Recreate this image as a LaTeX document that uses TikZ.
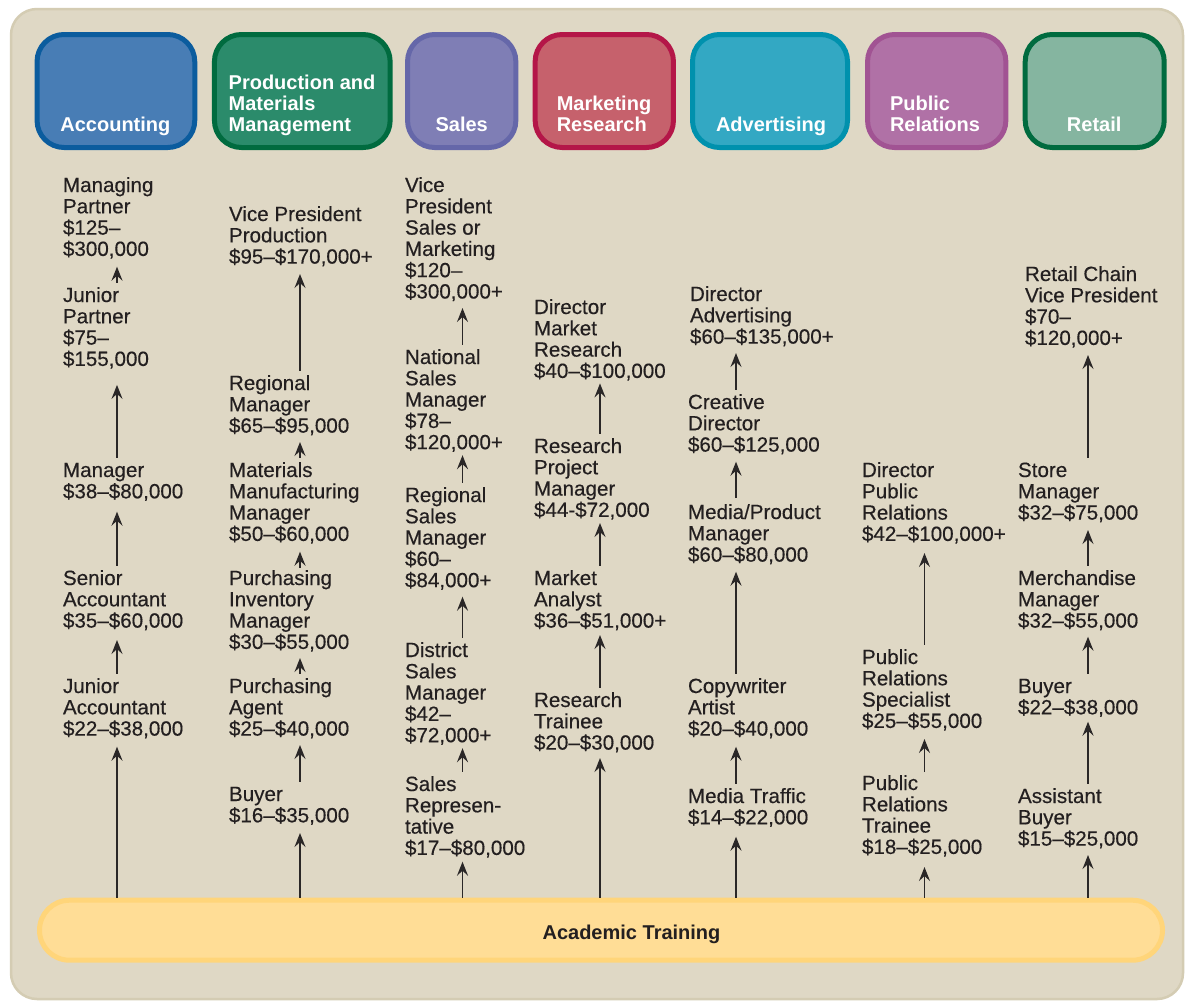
\documentclass[tikz,border=0pt]{standalone}
\usepackage{fontspec}
\setmainfont{Liberation Sans}
\newfontfamily\bodyfont[FakeBold=0.35]{Liberation Sans}
\usetikzlibrary{arrows.meta}
\definecolor{panel}{HTML}{DFD8C5}
\definecolor{panelb}{HTML}{D4CCB3}
\definecolor{ink}{HTML}{231F20}
\definecolor{arrowc}{HTML}{2A2727}
\definecolor{accF}{HTML}{487DB5}\definecolor{accB}{HTML}{0B5C9E}
\definecolor{proF}{HTML}{2B8B6B}\definecolor{proB}{HTML}{006B3F}
\definecolor{salF}{HTML}{7F7EB5}\definecolor{salB}{HTML}{6567A9}
\definecolor{mrF}{HTML}{C6616C}\definecolor{mrB}{HTML}{B41648}
\definecolor{advF}{HTML}{33A8C3}\definecolor{advB}{HTML}{0091AD}
\definecolor{prF}{HTML}{B071A6}\definecolor{prB}{HTML}{A15393}
\definecolor{retF}{HTML}{85B5A0}\definecolor{retB}{HTML}{006B3F}
\definecolor{acadF}{HTML}{FFDD96}\definecolor{acadB}{HTML}{FFD57A}
\newcommand\jt[1]{\rule{0pt}{17pt}#1\rule[-5pt]{0pt}{5pt}}
\begin{document}
\begin{tikzpicture}[x=1pt,y=-1pt,
  job/.style={anchor=north west, inner sep=0pt, outer sep=0pt, align=left,
    font=\bodyfont\fontsize{20.6}{21.3}\selectfont, text=ink},
  head/.style={anchor=north, inner sep=0pt, outer sep=0pt, align=left,
    font=\bfseries\fontsize{20}{21}\selectfont, text=white},
  hbox/.style 2 args={draw=#1, fill=#2, line width=5pt, rounded corners=27pt,
    minimum height=113pt, inner sep=0pt},
  arr/.style={draw=arrowc, line width=1.5pt,
    -{Stealth[length=14pt,width=11pt,inset=5pt]}, shorten <=2.5pt},
]
\useasboundingbox (0,0) rectangle (1185,1002);
\fill[white] (0,0) rectangle (1185,1002);
\filldraw[fill=panel, draw=panelb, line width=2.5pt, rounded corners=26pt]
  (11,9) rectangle (1183,999);

% column coordinates
\coordinate (cA) at (117,0);
\coordinate (cP) at (300,0);
\coordinate (cS) at (462.5,0);
\coordinate (cM) at (600,0);
\coordinate (cD) at (736,0);
\coordinate (cR) at (924.5,0);
\coordinate (cT) at (1088,0);

% header boxes
\node[hbox={accB}{accF}, minimum width=157.7pt] (hA) at (115.9,91) {};
\node[hbox={proB}{proF}, minimum width=175.7pt] (hP) at (302.3,91) {};
\node[hbox={salB}{salF}, minimum width=108.3pt] (hS) at (461.7,91) {};
\node[hbox={mrB}{mrF}, minimum width=138.3pt] (hM) at (604.3,91) {};
\node[hbox={advB}{advF}, minimum width=155pt] (hD) at (770,91) {};
\node[hbox={prB}{prF}, minimum width=138.3pt] (hR) at (936.7,91) {};
\node[hbox={retB}{retF}, minimum width=139pt] (hT) at (1094.7,91) {};

\node[head] (tA) at (115.4,114) {\rule{0pt}{17pt}Accounting};
\node[head] (tP) at (302,72) {\rule{0pt}{17pt}Production and\\Materials\\Management};
\node[head] (tS) at (461.7,114) {\rule{0pt}{17pt}Sales};
\node[head] (tM) at (604,93) {\rule{0pt}{17pt}Marketing\\Research};
\node[head] (tD) at (771,114) {\rule{0pt}{17pt}Advertising};
\node[head] (tR) at (935,93) {\rule{0pt}{17pt}Public\\Relations};
\node[head] (tT) at (1094.2,114) {\rule{0pt}{17pt}Retail};

% Accounting
\node[job] (a1) at (63,175) {\jt{Managing\\Partner\\\$125–\\\$300,000}};
\node[job] (a2) at (63,285) {\jt{Junior\\Partner\\\$75–\\\$155,000}};
\node[job] (a3) at (63,460) {\jt{Manager\\\$38–\$80,000}};
\node[job] (a4) at (63,568) {\jt{Senior\\Accountant\\\$35–\$60,000}};
\node[job] (a5) at (63,676) {\jt{Junior\\Accountant\\\$22–\$38,000}};

% Production
\node[job] (p1) at (229,204) {\jt{Vice President\\Production\\\$95–\$170,000+}};
\node[job] (p2) at (229,373) {\jt{Regional\\Manager\\\$65–\$95,000}};
\node[job] (p3) at (229,460) {\jt{Materials\\Manufacturing\\Manager\\\$50–\$60,000}};
\node[job] (p4) at (229,568) {\jt{Purchasing\\Inventory\\Manager\\\$30–\$55,000}};
\node[job] (p5) at (229,676) {\jt{Purchasing\\Agent\\\$25–\$40,000}};
\node[job] (p6) at (229,784) {\jt{Buyer\\\$16–\$35,000}};

% Sales
\node[job] (s1) at (405,175) {\jt{Vice\\President\\Sales or\\Marketing\\\$120–\\\$300,000+}};
\node[job] (s2) at (405,347) {\jt{National\\Sales\\Manager\\\$78–\\\$120,000+}};
\node[job] (s3) at (405,485) {\jt{Regional\\Sales\\Manager\\\$60–\\\$84,000+}};
\node[job] (s4) at (405,640) {\jt{District\\Sales\\Manager\\\$42–\\\$72,000+}};
\node[job] (s5) at (405,774) {\jt{Sales\\Represen-\\tative\\\$17–\$80,000}};

% Marketing Research
\node[job] (m1) at (534,297) {\jt{Director\\Market\\Research\\\$40–\$100,000}};
\node[job] (m2) at (534,436) {\jt{Research\\Project\\Manager\\\$44-\$72,000}};
\node[job] (m3) at (534,568) {\jt{Market\\Analyst\\\$36–\$51,000+}};
\node[job] (m4) at (534,690) {\jt{Research\\Trainee\\\$20–\$30,000}};

% Advertising
\node[job] (d1) at (690,284) {\jt{Director\\Advertising\\\$60–\$135,000+}};
\node[job] (d2) at (688,392) {\jt{Creative\\Director\\\$60–\$125,000}};
\node[job] (d3) at (688,502) {\jt{Media/Product\\Manager\\\$60–\$80,000}};
\node[job] (d4) at (688,676) {\jt{Copywriter\\Artist\\\$20–\$40,000}};
\node[job] (d5) at (688,786) {\jt{Media Traffic\\\$14–\$22,000}};

% Public Relations
\node[job] (r1) at (862,460) {\jt{Director\\Public\\Relations\\\$42–\$100,000+}};
\node[job] (r2) at (862,647) {\jt{Public\\Relations\\Specialist\\\$25–\$55,000}};
\node[job] (r3) at (862,773) {\jt{Public\\Relations\\Trainee\\\$18–\$25,000}};

% Retail
\node[job] (t1) at (1025,264) {\jt{Retail Chain\\Vice President\\\$70–\\\$120,000+}};
\node[job] (t2) at (1018,460) {\jt{Store\\Manager\\\$32–\$75,000}};
\node[job] (t3) at (1018,568) {\jt{Merchandise\\Manager\\\$32–\$55,000}};
\node[job] (t4) at (1018,676) {\jt{Buyer\\\$22–\$38,000}};
\node[job] (t5) at (1018,786) {\jt{Assistant\\Buyer\\\$15–\$25,000}};

% Academic training bar
\node[draw=acadB, fill=acadF, line width=5pt, rounded corners=30pt,
  minimum width=1123pt, minimum height=60pt, outer sep=2.5pt, inner sep=0pt]
  (acad) at (601,930.2) {};
\node[anchor=base, inner sep=0pt, text=ink, font=\bfseries\fontsize{20}{21}\selectfont]
  (acadT) at (631.5,939) {Academic Training};

% Arrows: Accounting
\draw[arr, shorten >=5.8pt] (a2.north -| cA) -- (a1.south -| cA);
\draw[arr, shorten >=14pt] (a3.north -| cA) -- (a2.south -| cA);
\draw[arr, shorten >=8.4pt] (a4.north -| cA) -- (a3.south -| cA);
\draw[arr, shorten >=7.4pt] (a5.north -| cA) -- (a4.south -| cA);
\draw[arr, shorten <=0pt, shorten >=6.1pt] (acad.north -| cA) -- (a5.south -| cA);
% Production
\draw[arr, shorten >=5.4pt] (p2.north -| cP) -- (p1.south -| cP);
\draw[arr, shorten >=4.4pt] (p3.north -| cP) -- (p2.south -| cP);
\draw[arr, shorten >=5.8pt, shorten <=0.5pt] (p4.north -| cP) -- (p3.south -| cP);
\draw[arr, shorten >=4.1pt] (p5.north -| cP) -- (p4.south -| cP);
\draw[arr, shorten >=4.4pt] (p6.north -| cP) -- (p5.south -| cP);
\draw[arr, shorten <=0pt, shorten >=5.7pt] (acad.north -| cP) -- (p6.south -| cP);
% Sales
\draw[arr, shorten >=4.5pt] (s2.north -| cS) -- (s1.south -| cS);
\draw[arr, shorten >=1pt] (s3.north -| cS) -- (s2.south -| cS);
\draw[arr, shorten >=4.5pt] (s4.north -| cS) -- (s3.south -| cS);
\draw[arr, shorten >=1pt] (s5.north -| cS) -- (s4.south -| cS);
\draw[arr, shorten <=0pt, shorten >=1.8pt] (acad.north -| cS) -- (s5.south -| cS);
% Marketing Research
\draw[arr, shorten >=0.5pt] (m2.north -| cM) -- (m1.south -| cM);
\draw[arr, shorten >=1.1pt] (m3.north -| cM) -- (m2.south -| cM);
\draw[arr, shorten >=2.4pt] (m4.north -| cM) -- (m3.south -| cM);
\draw[arr, shorten <=0pt, shorten >=3.4pt] (acad.north -| cM) -- (m4.south -| cM);
% Advertising
\draw[arr, shorten >=4.4pt] (d2.north -| cD) -- (d1.south -| cD);
\draw[arr, shorten >=5.1pt, shorten <=4pt] (d3.north -| cD) -- (d2.south -| cD);
\draw[arr, shorten >=5.1pt] (d4.north -| cD) -- (d3.south -| cD);
\draw[arr, shorten >=6.1pt] (d5.north -| cD) -- (d4.south -| cD);
\draw[arr, shorten <=0pt, shorten >=7.4pt] (acad.north -| cD) -- (d5.south -| cD);
% Public Relations
\draw[arr, shorten >=7.1pt] (r2.north -| cR) -- (r1.south -| cR);
\draw[arr, shorten >=6.1pt, shorten <=1pt] (r3.north -| cR) -- (r2.south -| cR);
\draw[arr, shorten <=0pt, shorten >=8.1pt] (acad.north -| cR) -- (r3.south -| cR);
% Retail
\draw[arr, shorten >=5.1pt] (t2.north -| cT) -- (t1.south -| cT);
\draw[arr, shorten >=5.4pt] (t3.north -| cT) -- (t2.south -| cT);
\draw[arr, shorten >=4.1pt] (t4.north -| cT) -- (t3.south -| cT);
\draw[arr, shorten >=2.4pt] (t5.north -| cT) -- (t4.south -| cT);
\draw[arr, shorten <=0pt, shorten >=4.4pt] (acad.north -| cT) -- (t5.south -| cT);
\end{tikzpicture}
\end{document}
